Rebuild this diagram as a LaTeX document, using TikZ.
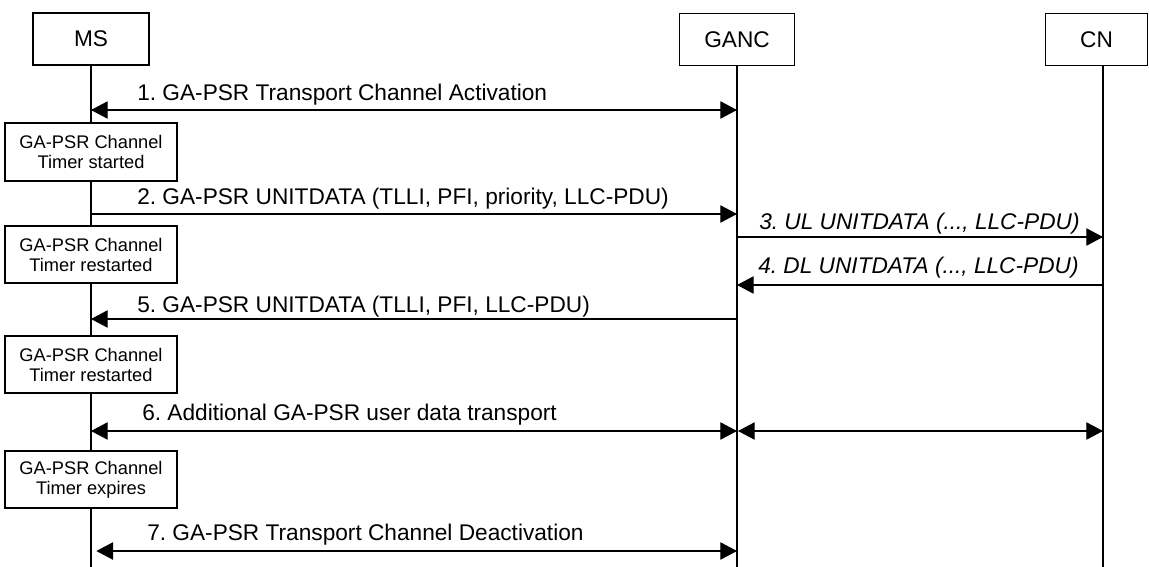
\documentclass[tikz,border=0pt]{standalone}
\usepackage{fontspec}
\setmainfont{Liberation Sans}
\usetikzlibrary{arrows.meta}
\tikzset{
  actor/.style={draw, line width=0.8pt, fill=white, inner sep=0pt, font=\fontsize{17}{20}\selectfont},
  timerbox/.style={draw, line width=0.8pt, fill=white, inner sep=0pt, align=center,
     minimum width=129pt, font=\fontsize{13.7}{15}\selectfont},
  lifeline/.style={line width=0.8pt},
  msg/.style={line width=0.8pt, -{Triangle[length=12.5pt,width=13pt]}},
  bimsg/.style={line width=0.8pt, {Triangle[length=12.5pt,width=13pt]}-{Triangle[length=12.5pt,width=13pt]}},
  lbl/.style={anchor=base west, inner sep=0pt, font=\fontsize{17}{20}\selectfont},
  ilbl/.style={lbl, font=\fontsize{17}{20}\selectfont\itshape}
}
\begin{document}
\frenchspacing
\begin{tikzpicture}[x=0.75pt, y=-0.75pt]
\useasboundingbox (0,0) rectangle (1149,567);
% actors
\node[actor, minimum width=87pt, minimum height=39pt] (ms) at (91,39) {MS};
\node[actor, minimum width=86pt, minimum height=39.5pt] (ganc) at (737,39.5) {GANC};
\node[actor, minimum width=77pt, minimum height=39.5pt] (cn) at (1096.5,39.5) {CN};
% lifeline ends
\coordinate (msend) at (91,567);
\coordinate (gancend) at (737,567);
\coordinate (cnend) at (1103,567);
\coordinate (cntop) at (1103,66);
\draw[lifeline] (ms.south) -- (msend);
\draw[lifeline] (ganc.south) -- (gancend);
\draw[lifeline] (cntop) -- (cnend);
% timer boxes
\node[timerbox, minimum height=43.5pt] (t1) at (91,152) {GA-PSR Channel\\Timer started};
\node[timerbox, minimum height=42.75pt] (t2) at (91,254.5) {GA-PSR Channel\\Timer restarted};
\node[timerbox, minimum height=42.75pt] (t3) at (91,364.5) {GA-PSR Channel\\Timer restarted};
\node[timerbox, minimum height=42.75pt] (t4) at (91,479.5) {GA-PSR Channel\\Timer expires};
% messages
\draw[bimsg] (ms |- 0,110) -- (ganc |- 0,110);
\node[lbl] (l1) at (137,100) {1. GA-PSR Transport Channel Activation};
\draw[msg] (ms |- 0,214) -- (ganc |- 0,214);
\node[lbl] (l2) at (137,204) {2. GA-PSR UNITDATA (TLLI, PFI, priority, LLC-PDU)};
\draw[msg] (ganc |- 0,237) -- (cntop |- 0,237);
\node[ilbl] (l3) at (759,229) {3. UL UNITDATA (..., LLC-PDU)};
\draw[msg] (cntop |- 0,285) -- (ganc |- 0,285);
\node[ilbl] (l4) at (758,273) {4. DL UNITDATA (..., LLC-PDU)};
\draw[msg] (ganc |- 0,319) -- (ms |- 0,319);
\node[lbl] (l5) at (137,312) {5. GA-PSR UNITDATA (TLLI, PFI, LLC-PDU)};
\draw[bimsg] (ms |- 0,431) -- (ganc |- 0,431);
\draw[bimsg] ([xshift=0.75pt]ganc |- 0,431) -- (cntop |- 0,431);
\node[lbl] (l6) at (142,420) {6. Additional GA-PSR user data transport};
\draw[bimsg] ([xshift=4pt]ms |- 0,551) -- (ganc |- 0,551);
\node[lbl] (l7) at (147,540) {7. GA-PSR Transport Channel Deactivation};
\end{tikzpicture}
\end{document}
